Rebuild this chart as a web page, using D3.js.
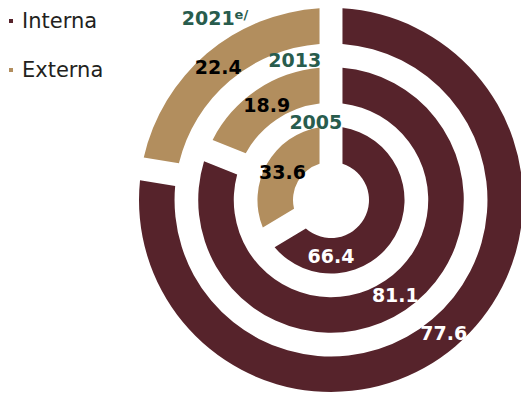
<!DOCTYPE html>
<html>
<head>
<title>Interna / Externa</title>
<style>
  body { margin: 0; background: #fff; }
  svg { display: block; }
  .val { font: bold 19px "DejaVu Sans", sans-serif; }
  .year { font: bold 19px "DejaVu Sans", sans-serif; fill: #285C4D; }
  .legend text { font: 21px "DejaVu Sans", sans-serif; fill: #231F20; }
</style>
</head>
<body>
<script src="https://cdn.jsdelivr.net/npm/d3@7"></script>
<script>
// data, inner ring first
var years = ["2005", "2013", "2021"];
var yearSuffix = ["", "", "e/"];
var interna = [66.4, 81.1, 77.6];
var externa = [33.6, 18.9, 22.4];
var series = ["Interna", "Externa"];
var colors = ["#56232B", "#B28E5E"];

var width = 521, height = 394;
var cx = 331, cy = 200;

var svg = d3.select("body").append("svg")
    .attr("width", width)
    .attr("height", height);

var g = svg.append("g")
    .attr("transform", "translate(" + cx + "," + cy + ")");

// rings along the radius
var r = d3.scaleBand()
    .domain(years)
    .range([38, 192])
    .paddingInner(0.4);

var color = d3.scaleOrdinal().domain(series).range(colors);

var pie = d3.pie()
    .sort(null)
    .value(function (d) { return d.value; });

var arc = d3.arc()
    .padAngle(0.23)
    .padRadius(100);

years.forEach(function (yr, i) {
  var rows = [
    { key: "Interna", value: interna[i] },
    { key: "Externa", value: externa[i] }
  ];
  var r0 = r(yr), r1 = r(yr) + r.bandwidth();
  var arcs = pie(rows).map(function (d) {
    d.innerRadius = r0;
    d.outerRadius = r1;
    return d;
  });

  g.selectAll(null)
    .data(arcs)
    .enter().append("path")
      .attr("d", arc)
      .attr("fill", function (d) { return color(d.data.key); });

  g.selectAll(null)
    .data(arcs)
    .enter().append("text")
      .attr("class", "val")
      .attr("text-anchor", "middle")
      .attr("dy", "0.36em")
      .attr("transform", function (d) {
        var c = arc.centroid(d);
        // inner ring's interna label sits at the bottom
        if (i === 0 && d.data.key === "Interna") {
          var m = (r0 + r1) / 2;
          c = [0, m];
        }
        return "translate(" + c + ")";
      })
      .attr("fill", function (d) { return d.data.key === "Interna" ? "#fff" : "#000"; })
      .text(function (d) { return d.data.value.toFixed(1); });
});

// year labels near the top of each ring
var yearPos = [
  { a: -11, dr: 6 },
  { a: -14.5, dr: 12 },
  { a: -32.5, dr: 24 }
];
years.forEach(function (yr, i) {
  var rad = r(yr) + r.bandwidth() + yearPos[i].dr;
  var a = yearPos[i].a * Math.PI / 180;
  var t = g.append("text")
      .attr("class", "year")
      .attr("text-anchor", "middle")
      .attr("dy", "0.36em")
      .attr("x", rad * Math.sin(a))
      .attr("y", -rad * Math.cos(a))
      .text(yr);
  if (yearSuffix[i]) {
    t.append("tspan")
      .attr("dy", "-0.45em")
      .style("font-size", "13px")
      .text(yearSuffix[i]);
  }
});

// legend
var legend = svg.append("g").attr("class", "legend");
var ly = d3.scalePoint().domain(series).range([21, 70]);
series.forEach(function (s) {
  legend.append("rect")
    .attr("x", 9)
    .attr("y", ly(s) - 2)
    .attr("width", 4)
    .attr("height", 4)
    .attr("fill", color(s));
  legend.append("text")
    .attr("x", 22)
    .attr("y", ly(s) + 7)
    .text(s);
});
</script>
</body>
</html>
